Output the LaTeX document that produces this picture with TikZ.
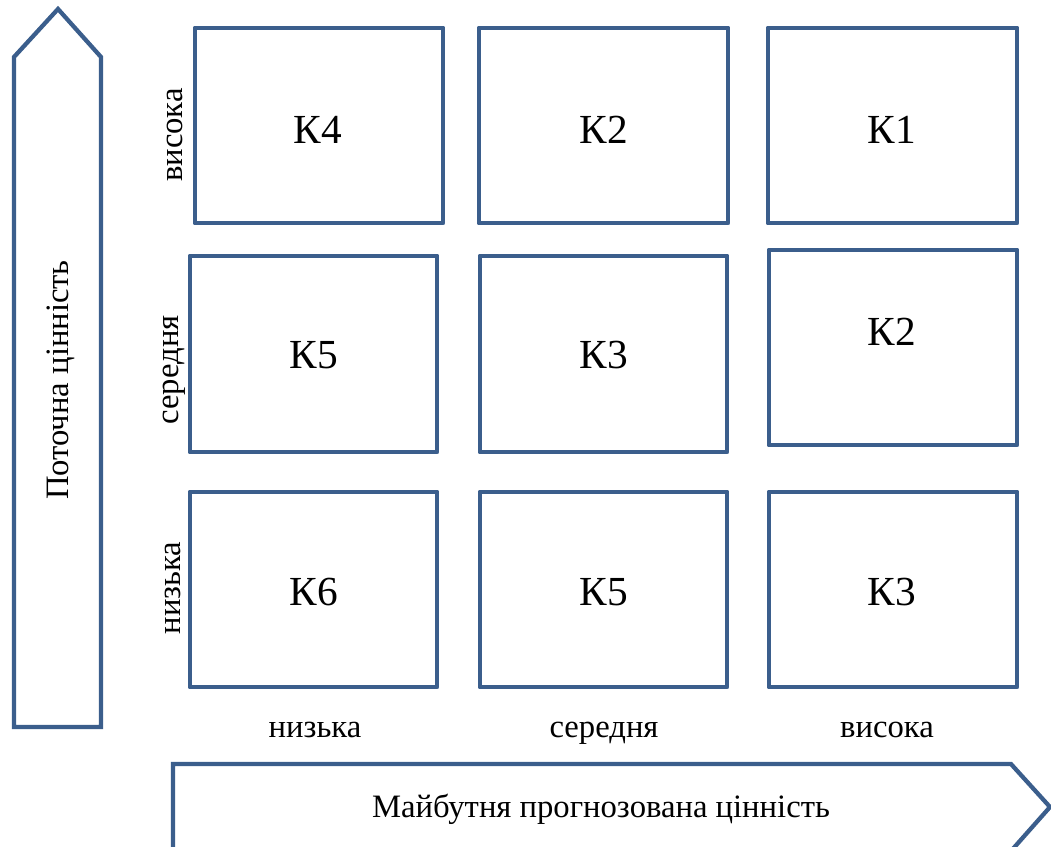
\documentclass[tikz,border=0pt]{standalone}
\usepackage{fontspec}
\setmainfont{Liberation Serif}
\definecolor{boxblue}{HTML}{3B5E8C}
\begin{document}
\begin{tikzpicture}[x=0.75pt,y=-0.75pt,
  cell/.style={draw=boxblue,line width=3.7pt,line join=round},
  arrowshape/.style={draw=boxblue,line width=3.2pt,line join=miter},
  big/.style={font=\fontsize{31}{36}\selectfont,inner sep=0pt},
  lab/.style={font=\fontsize{24.5}{28}\selectfont,inner sep=0pt,anchor=base}]
\useasboundingbox (0,0) rectangle (1051,847);
% vertical arrow
\draw[arrowshape] (14,727) -- (14,57) -- (58,9) -- (101,57) -- (101,727) -- cycle;
% horizontal arrow
\draw[arrowshape] (173,870) -- (173,764) -- (1011,764) -- (1050,807) -- (1011,851);
% cells
\draw[cell] (195,28) rectangle (443,223);
\draw[cell] (479,28) rectangle (728,223);
\draw[cell] (768,28) rectangle (1017,223);
\draw[cell] (190,256) rectangle (437,452);
\draw[cell] (480,256) rectangle (727,452);
\draw[cell] (769,250) rectangle (1017,445);
\draw[cell] (190,492) rectangle (437,687);
\draw[cell] (480,492) rectangle (727,687);
\draw[cell] (769,492) rectangle (1017,687);
% cell labels
\node[big] (c11) at (318,130) {К4};
\node[big] (c12) at (604,130) {К2};
\node[big] (c13) at (892,130) {К1};
\node[big] (c21) at (314,355) {К5};
\node[big] (c22) at (604,355) {К3};
\node[big] (c23) at (892,332) {К2};
\node[big] (c31) at (314,592) {К6};
\node[big] (c32) at (604,592) {К5};
\node[big] (c33) at (892,592) {К3};
% axis labels
\node[lab] (x1) at (315,737) {низька};
\node[lab] (x2) at (604,737) {середня};
\node[lab] (x3) at (887,737) {висока};
\node[lab] (xt) at (601,817) {Майбутня прогнозована цінність};
\node[lab,rotate=90] (y1) at (182,135) {висока};
\node[lab,rotate=90] (y2) at (178,370) {середня};
\node[lab,rotate=90] (y3) at (180,588) {низька};
\node[lab,rotate=90] (yt) at (68,380) {Поточна цінність};
\end{tikzpicture}
\end{document}
